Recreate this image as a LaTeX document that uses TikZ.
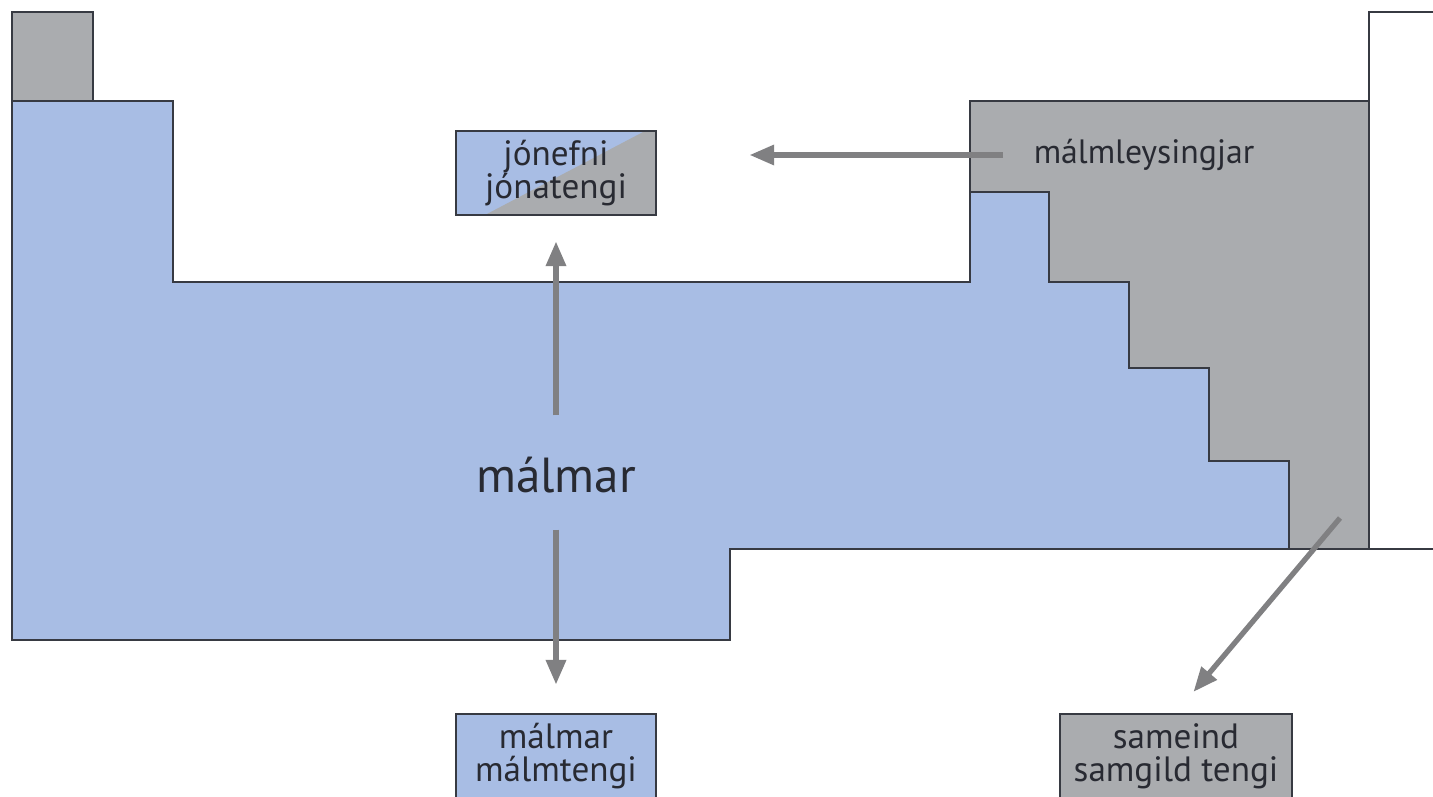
\documentclass[tikz,border=0pt]{standalone}
\usepackage{fontspec}
\setmainfont{PT Sans}
\usepackage{xcolor}
\usetikzlibrary{arrows.meta}
\definecolor{metalblue}{RGB}{168,189,228}
\definecolor{nonmetalgray}{RGB}{170,172,175}
\definecolor{edgegray}{RGB}{55,58,66}
\definecolor{arrowgray}{RGB}{128,128,130}
\definecolor{textgray}{RGB}{40,42,50}

\begin{document}
\begin{tikzpicture}[x=0.01cm,y=-0.01cm,
    edge/.style={draw=edgegray,line width=0.8pt},
    bond/.style={draw=edgegray,line width=0.8pt,text=textgray,align=center,
      font=\fontsize{10}{9.4}\selectfont,minimum width=2cm,minimum height=0.84cm,inner sep=0pt},
    arr/.style={draw=arrowgray,line width=1.5pt,-{Triangle[length=7pt,width=5.5pt]}}]
        %RAMMI
        \clip (0,0) rectangle (1433,797);
        %KOORDINAT
        \coordinate (nmcorner) at (1340,518);
        %MALMLEYSINGJAR
        \draw[edge,fill=nonmetalgray] (12,12) rectangle (93,101);
        \draw[edge,fill=nonmetalgray] (970,101) rectangle (1369,549);
        %MALMAR
        \draw[edge,fill=metalblue] (12,101) -| (173,282) -| (970,192) -| (1049,282) -| (1129,368) -| (1209,461) -| (1289,549) -| (730,640) -- (12,640) -- cycle;
        \draw[edge] (1433,12) -| (1369,549) -- (1433,549);
        %TEXTI
        \node[text=textgray,font=\fontsize{14}{16}\selectfont,inner sep=0pt] (metals) at (556,475) {málmar};
        \node[text=textgray,font=\fontsize{9.6}{12}\selectfont,inner sep=0pt] (nonmetals) at (1144,155) {málmleysingjar};
        %KASSAR
        \node[bond,path picture={
            \fill[metalblue] (path picture bounding box.south west) rectangle (path picture bounding box.north east);
            \fill[nonmetalgray] ([xshift=0.29cm]path picture bounding box.south west) -- (path picture bounding box.south east)
              -- (path picture bounding box.north east) -- ([xshift=-0.11cm]path picture bounding box.north east) -- cycle;}]
          (ionic) at (556,173) {jónefni\\jónatengi};
        \node[bond,fill=metalblue] (metalbond) at (556,756) {málmar\\málmtengi};
        \node[bond,fill=nonmetalgray,minimum width=2.32cm] (covalent) at (1176,756) {sameind\\samgild tengi};
        %ORVAR
        \draw[arr,shorten <=0.41cm,shorten >=0.25cm] (metals) -- (ionic);
        \draw[arr,shorten <=0.36cm,shorten >=0.28cm] (metals) -- (metalbond);
        \draw[arr,shorten <=0.3cm,shorten >=0.92cm] (nonmetals.west) -- (nonmetals.west -| ionic.east);
        \draw[arr,shorten >=0.27cm] (nmcorner) -- (covalent.north);
    \end{tikzpicture}
\end{document}
